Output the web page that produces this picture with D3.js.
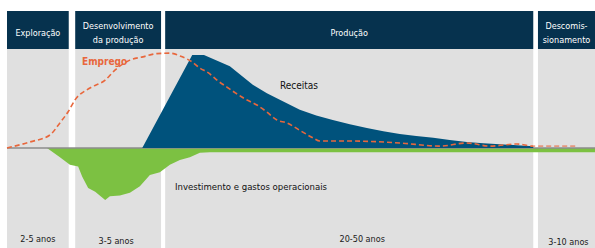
<!DOCTYPE html>
<html>
<head>
<meta charset="utf-8">
<script src="https://cdn.jsdelivr.net/npm/d3@7"></script>
<style>
	body { margin: 0; background: #fff; }
	text { font-family: "DejaVu Sans Condensed", "DejaVu Sans", sans-serif; }
</style>
</head>
<body>
<div id="chart"></div>
<script>
// fasi del ciclo di vita (asse x in unita' di tempo 0-100)
const phaseNames = [["Exploração"], ["Desenvolvimento", "da produção"], ["Produção"], ["Descomis-", "sionamento"]];
const phaseStart = [0, 11.6, 26.9, 90.3];
const phaseEnd = [10.5, 26.2, 89.5, 100];
const phaseDuration = ["2-5 anos", "3-5 anos", "20-50 anos", "3-10 anos"];

// receitas
const revenueT = [23, 31.5, 33.5, 37.9, 41.8, 44.2, 46.4, 49.8, 52.6, 55.4, 58.3, 61.2, 64.0, 66.8, 69.6, 72.5, 75.3, 78.2, 81.0, 83.8, 86.7, 89.5];
const revenueV = [0, 1, 1, 0.88, 0.68, 0.59, 0.52, 0.41, 0.35, 0.30, 0.255, 0.215, 0.18, 0.15, 0.128, 0.11, 0.085, 0.065, 0.05, 0.04, 0.03, 0.02];

// investimento e gastos operacionais
const investT = [6.8, 9.0, 10.7, 12.1, 12.8, 13.8, 15.0, 16.7, 17.5, 19.2, 20.9, 22.6, 24.3, 26.0, 27.7, 29.4, 31.1, 32.8, 34.5, 100];
const investV = [0, -0.10, -0.18, -0.20, -0.31, -0.43, -0.47, -0.56, -0.52, -0.51, -0.48, -0.41, -0.29, -0.26, -0.18, -0.13, -0.10, -0.05, -0.045, -0.045];

// emprego
const jobsT = [0, 3.9, 7.3, 9.0, 10.4, 11.6, 14.1, 16.7, 18.4, 20.9, 23.1, 25.5, 27.7, 29.8, 31.5, 32.8, 34.2, 35.9, 37.4, 38.9, 40.5, 42.5, 44.2, 45.9, 47.6, 49.8, 52.0, 53.2, 58.3, 66.8, 73.6, 78.2, 82.1, 86.7, 89.5, 97.1];
const jobsV = [0, 0.065, 0.14, 0.27, 0.39, 0.52, 0.645, 0.73, 0.84, 0.945, 0.98, 1.015, 1.02, 0.98, 0.925, 0.86, 0.81, 0.72, 0.655, 0.59, 0.527, 0.462, 0.387, 0.301, 0.27, 0.19, 0.11, 0.075, 0.075, 0.054, 0.02, 0.054, 0.02, 0.043, 0.02, 0.02];

const W = 595, H = 248;
const headTop = 11, headBottom = 49;

const svg = d3.select("#chart").append("svg")
	.attr("width", W)
	.attr("height", H);

const x = d3.scaleLinear().domain([0, 100]).range([7, W]);
const y = d3.scaleLinear().domain([-1, 1]).range([241, 55]);

const zip = (t, v) => t.map((d, i) => [d, v[i]]);

// pannelli grigi e intestazioni
const panel = svg.selectAll(".panel")
	.data(phaseNames)
	.enter().append("g")
	.attr("class", "panel");

panel.append("rect")
	.attr("x", (d, i) => x(phaseStart[i]))
	.attr("y", headBottom)
	.attr("width", (d, i) => x(phaseEnd[i]) - x(phaseStart[i]))
	.attr("height", H - headBottom)
	.style("fill", "#e0e0e0");

panel.append("rect")
	.attr("x", (d, i) => x(phaseStart[i]))
	.attr("y", headTop)
	.attr("width", (d, i) => x(phaseEnd[i]) - x(phaseStart[i]))
	.attr("height", headBottom - headTop)
	.style("fill", "#06324e");

const headText = panel.append("text")
	.attr("x", (d, i) => (x(phaseStart[i]) + x(phaseEnd[i])) / 2)
	.attr("y", d => d.length > 1 ? 28.5 : 35.5)
	.style("text-anchor", "middle")
	.style("font-size", "9px")
	.style("fill", "#fff");

headText.selectAll("tspan")
	.data(d => d)
	.enter().append("tspan")
	.attr("x", function () { return d3.select(this.parentNode).attr("x"); })
	.attr("dy", (d, i) => i ? 14.5 : 0)
	.text(d => d);

// etichette durata
const durationOffset = [0, -2, 13, 2];
const durationY = [242, 244, 242, 245];
panel.append("text")
	.attr("x", (d, i) => (x(phaseStart[i]) + x(phaseEnd[i])) / 2 + durationOffset[i])
	.attr("y", (d, i) => durationY[i])
	.style("text-anchor", "middle")
	.style("font-size", "9px")
	.style("fill", "#1a1a1a")
	.text((d, i) => phaseDuration[i]);

// area investimento
svg.append("path")
	.datum(zip(investT, investV))
	.attr("d", d3.area().x(d => x(d[0])).y0(y(0)).y1(d => y(d[1])))
	.style("fill", "#7cc142");

// linea di base
svg.append("line")
	.attr("x1", x(0)).attr("x2", x(100))
	.attr("y1", y(0)).attr("y2", y(0))
	.style("stroke", "#8c8c8c")
	.style("stroke-width", 1.5);

// area receitas (salita lineare, poi decadimento)
svg.append("path")
	.datum(zip(revenueT, revenueV))
	.attr("d", d3.area().x(d => x(d[0])).y0(y(0)).y1(d => y(d[1])))
	.style("fill", "#00527c");

// linea emprego tratteggiata, piu' chiara oltre la fine della produzione
const defs = svg.append("defs");
defs.append("clipPath").attr("id", "clipIn")
	.append("rect").attr("x", 0).attr("y", 0).attr("width", x(phaseEnd[2])).attr("height", H);
defs.append("clipPath").attr("id", "clipOut")
	.append("rect").attr("x", x(phaseEnd[2])).attr("y", 0).attr("width", W).attr("height", H);

const jobsLine = d3.line().x(d => x(d[0])).y(d => y(d[1])).curve(d3.curveMonotoneX);
["clipIn", "clipOut"].forEach((c, i) => {
	svg.append("path")
		.datum(zip(jobsT, jobsV))
		.attr("d", jobsLine)
		.attr("clip-path", "url(#" + c + ")")
		.style("fill", "none")
		.style("stroke", "#e8673c")
		.style("stroke-width", 1.6)
		.style("stroke-dasharray", "5,3")
		.style("opacity", i ? 0.6 : 1);
});

// etichette serie
svg.append("text")
	.attr("x", 82).attr("y", 65)
	.style("font-size", "10px")
	.style("font-weight", "bold")
	.style("fill", "#e8673c")
	.text("Emprego");

svg.append("text")
	.attr("x", 280).attr("y", 89)
	.style("font-size", "10px")
	.style("fill", "#111")
	.text("Receitas");

svg.append("text")
	.attr("x", 175).attr("y", 189.5)
	.style("font-size", "9.5px")
	.style("fill", "#111")
	.text("Investimento e gastos operacionais");
</script>
</body>
</html>
